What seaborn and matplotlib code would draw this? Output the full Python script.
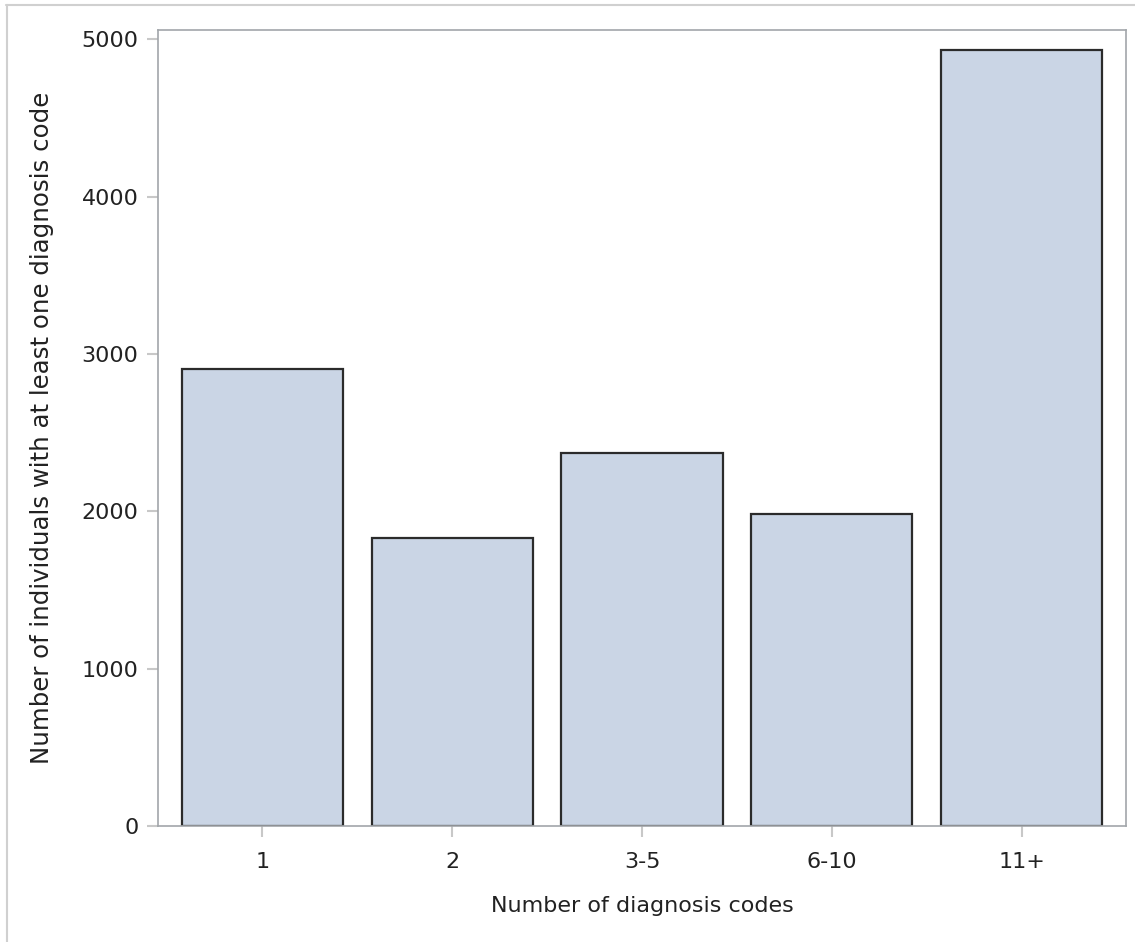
import matplotlib
matplotlib.use("Agg")
import matplotlib.pyplot as plt
from matplotlib.lines import Line2D
import seaborn as sns
import pandas as pd

# Counts of individuals by number of diagnosis codes
categories = ["1", "2", "3-5", "6-10", "11+"]
counts = [2908, 1829, 2369, 1982, 4931]
y_ticks = [0, 1000, 2000, 3000, 4000, 5000]

df = pd.DataFrame({"codes": categories, "count": counts})

sns.set_theme(style="white")
plt.rcParams["font.family"] = ["DejaVu Sans"]

fig = plt.figure(figsize=(11.35, 9.42), dpi=100)
ax = fig.add_axes([158 / 1135, 116 / 942, (1126 - 158) / 1135, (826 - 30) / 942])

sns.barplot(data=df, x="codes", y="count", order=categories, color="#CAD5E5",
            saturation=1, edgecolor="#2b2b2b", linewidth=1.6, width=0.85, ax=ax)

ax.set_xlim(-0.55, 4.55)
ax.set_ylim(0, 5060)
ax.set_yticks(y_ticks)
ax.set_yticklabels([str(v) for v in y_ticks])

for side in ["left", "right", "top", "bottom"]:
    ax.spines[side].set_visible(True)
    ax.spines[side].set_color("#a2a6aa")
    ax.spines[side].set_linewidth(1.2)

ax.tick_params(axis="both", which="major", direction="out", length=8,
               width=1.5, color="#c8c8c8", labelsize=16, labelcolor="#222222",
               left=True, bottom=True, pad=6)
ax.tick_params(axis="x", pad=11)

ax.set_xlabel("Number of diagnosis codes", fontsize=16, color="#222222", labelpad=17)
ax.set_ylabel("Number of individuals with at least one diagnosis code",
              fontsize=17.6, color="#222222", labelpad=20)

# Light frame along the top and left edges of the figure
fig.add_artist(Line2D([6 / 1135, 1], [1 - 4.5 / 942, 1 - 4.5 / 942],
                      transform=fig.transFigure, color="#d0d0d0", lw=1.5))
fig.add_artist(Line2D([6.5 / 1135, 6.5 / 1135], [0, 1 - 4.5 / 942],
                      transform=fig.transFigure, color="#d0d0d0", lw=1.5))

fig.savefig("out.png", dpi=100, facecolor="white")
